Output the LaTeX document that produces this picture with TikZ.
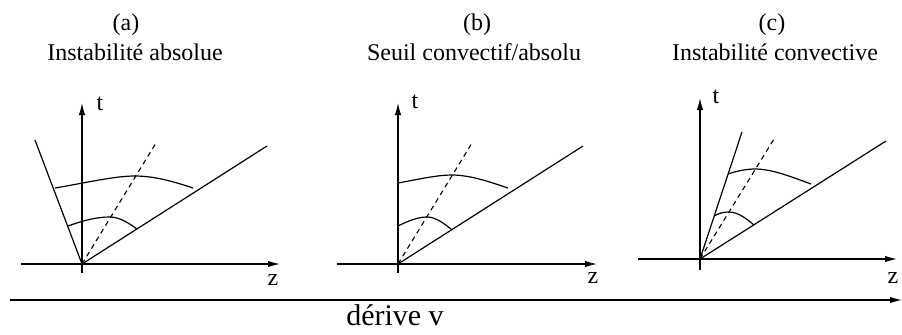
\documentclass[tikz,border=0pt]{standalone}
\usepackage{fontspec}
\setmainfont{Liberation Serif}
\usetikzlibrary{arrows.meta}
\definecolor{figink}{HTML}{000000}
\tikzset{
  figtext/.style={font=\fontsize{12}{14}\selectfont, text=figink, inner sep=0pt, anchor=base},
  driftlabel/.style={font=\fontsize{15}{18}\selectfont, text=figink, inner sep=0pt, anchor=base},
  axisflow/.style={-{Latex[length=6pt,width=3.2pt]}, draw=figink, line width=.6pt},
  rayline/.style={draw=figink, line width=.6pt},
  groupray/.style={draw=figink, line width=.55pt, dash pattern=on 2.5pt off 2pt},
  frontline/.style={draw=figink, line width=.6pt}
}

\begin{document}
\begin{tikzpicture}[x=.5pt,y=-.5pt]
  \useasboundingbox (0,0) rectangle (902,334);
  % Three space-time sketches, wave packets drawn at two times.
  \foreach \i/\xa/\xb/\a/\b in {
    a/126/135/{(a)}/{Instabilité absolue},
    b/477/474/{(b)}/{Seuil convectif/absolu},
    c/772/775/{(c)}/{Instabilité convective}
  } {
    \node[figtext] (lab\i) at (\xa,30) {\a};
    \node[figtext] (title\i) at (\xb,60) {\b};
  }

  % (a) absolute
  \coordinate (Oa) at (82,264);
  \coordinate (tfoota) at (82,273);
  \coordinate (ttopa) at (82,103);
  \coordinate (zlefta) at (21,264);
  \coordinate (zrighta) at (280,264);
  \coordinate (backa) at (35,140);
  \coordinate (fronta) at (267,146);
  \coordinate (groupa) at (156,143);
  \draw[axisflow] (tfoota) -- (ttopa);
  \draw[axisflow] (zlefta) -- (zrighta);
  \draw[rayline] (backa) -- (Oa) -- (fronta);
  \draw[groupray] (Oa) -- (groupa);
  \draw[frontline] (55,188) .. controls (90,182) and (115,176) .. (135,176)
    .. controls (155,176) and (175,182) .. (193,188);
  \draw[frontline] (68,226) .. controls (85,220) and (97,217) .. (110,217)
    .. controls (120,217) and (130,224) .. (137,229);
  \node[figtext] (tlaba) at (100,110) {t};
  \node[figtext] (zlaba) at (273,285) {z};

  % (b) marginal
  \coordinate (Ob) at (398,264);
  \coordinate (tfootb) at (398,273);
  \coordinate (ttopb) at (398,103);
  \coordinate (zleftb) at (337,264);
  \coordinate (zrightb) at (597,264);
  \coordinate (frontb) at (583,146);
  \coordinate (groupb) at (472,143);
  \draw[axisflow] (tfootb) -- (ttopb);
  \draw[axisflow] (zleftb) -- (zrightb);
  \draw[rayline] (Ob) -- (frontb);
  \draw[groupray] (Ob) -- (groupb);
  \draw[frontline] (398,183) .. controls (420,179) and (437,175) .. (452,175)
    .. controls (470,175) and (490,182) .. (508,188);
  \draw[frontline] (398,226) .. controls (408,221) and (418,217) .. (427,217)
    .. controls (436,217) and (445,224) .. (452,230);
  \node[figtext] (tlabb) at (415,108) {t};
  \node[figtext] (zlabb) at (593,283) {z};

  % (c) convective
  \coordinate (Oc) at (700,259);
  \coordinate (tfootc) at (700,270);
  \coordinate (ttopc) at (700,98);
  \coordinate (zleftc) at (638,259);
  \coordinate (zrightc) at (897,259);
  \coordinate (backc) at (742,132);
  \coordinate (frontc) at (886,141);
  \coordinate (groupc) at (774,139);
  \draw[axisflow] (tfootc) -- (ttopc);
  \draw[axisflow] (zleftc) -- (zrightc);
  \draw[rayline] (backc) -- (Oc) -- (frontc);
  \draw[groupray] (Oc) -- (groupc);
  \draw[frontline] (728,174) .. controls (737,171) and (746,169) .. (755,169)
    .. controls (772,169) and (792,177) .. (811,184);
  \draw[frontline] (714,216) .. controls (719,213) and (724,212) .. (729,212)
    .. controls (738,212) and (747,219) .. (754,225);
  \node[figtext] (tlabc) at (716,103) {t};
  \node[figtext] (zlabc) at (893,283) {z};

  % drift axis
  \coordinate (driftstart) at (10,300);
  \coordinate (driftend) at (902,300);
  \draw[axisflow] (driftstart) -- (driftend);
  \node[driftlabel] (drift) at (395,325) {dérive v};
\end{tikzpicture}
\end{document}
